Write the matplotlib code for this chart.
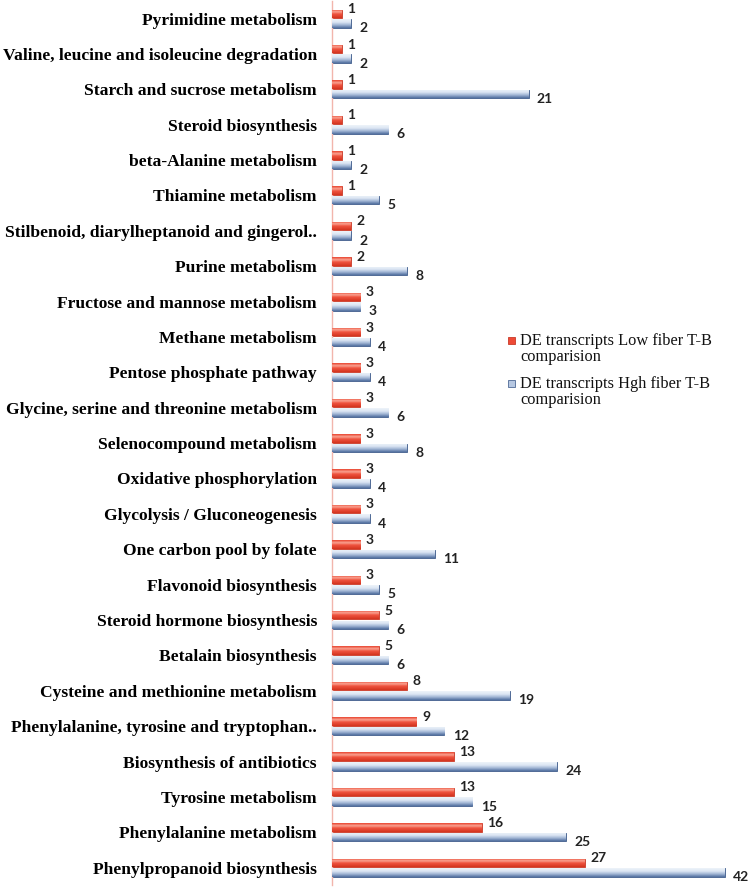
import numpy as np
import matplotlib
matplotlib.use('Agg')
import matplotlib.pyplot as plt
from matplotlib.colors import LinearSegmentedColormap
from matplotlib.patches import Rectangle

# pathways, top to bottom as in the picture
pathways = [
    'Pyrimidine metabolism',
    'Valine, leucine and isoleucine degradation',
    'Starch and sucrose metabolism',
    'Steroid biosynthesis',
    'beta-Alanine metabolism',
    'Thiamine metabolism',
    'Stilbenoid, diarylheptanoid and gingerol..',
    'Purine metabolism',
    'Fructose and mannose metabolism',
    'Methane metabolism',
    'Pentose phosphate pathway',
    'Glycine, serine and threonine metabolism',
    'Selenocompound metabolism',
    'Oxidative phosphorylation',
    'Glycolysis / Gluconeogenesis',
    'One carbon pool by folate',
    'Flavonoid biosynthesis',
    'Steroid hormone biosynthesis',
    'Betalain biosynthesis',
    'Cysteine and methionine metabolism',
    'Phenylalanine, tyrosine and tryptophan..',
    'Biosynthesis of antibiotics',
    'Tyrosine metabolism',
    'Phenylalanine metabolism',
    'Phenylpropanoid biosynthesis',
]
low_fiber = [1, 1, 1, 1, 1, 1, 2, 2, 3, 3, 3, 3, 3, 3, 3, 3, 3, 5, 5, 8, 9, 13, 13, 16, 27]
high_fiber = [2, 2, 21, 6, 2, 5, 2, 8, 3, 4, 4, 6, 8, 4, 4, 11, 5, 6, 6, 19, 12, 24, 15, 25, 42]
legend_labels = ['DE transcripts Low fiber T-B\ncomparision',
                 'DE transcripts Hgh fiber T-B\ncomparision']

red_cmap = LinearSegmentedColormap.from_list(
    'red3d', [(0, '#E9442F'), (0.3, '#F9A291'), (0.55, '#F05440'), (1, '#D3341F')])
blue_cmap = LinearSegmentedColormap.from_list(
    'blue3d', [(0, '#EEF3FA'), (0.35, '#DCE6F3'), (0.65, '#A4B8D6'), (1, '#5270A0')])

fig = plt.figure(figsize=(7.5, 8.88), dpi=100)
ax = fig.add_axes([0.443, 0.003, 0.557, 0.996])

n = len(pathways)
y = np.arange(n)[::-1]
h = 0.24
off = 0.135

bars_low = ax.barh(y + off, low_fiber, height=h, color='#EE4A36', edgecolor='#C93A28', linewidth=0.6, zorder=2)
bars_high = ax.barh(y - off, high_fiber, height=h, color='#C9D7EA', edgecolor='#4F6A96', linewidth=0.7, zorder=2)

grad = np.linspace(0, 1, 64).reshape(-1, 1)
for bars, cmap in [(bars_low, red_cmap), (bars_high, blue_cmap)]:
    for b in bars:
        x0, y0, w, hh = b.get_x(), b.get_y(), b.get_width(), b.get_height()
        im = ax.imshow(grad, cmap=cmap, aspect='auto', origin='upper',
                       extent=[x0, x0 + w, y0, y0 + hh], zorder=3)
        im.set_clip_path(b)

for b, v in zip(bars_low, low_fiber):
    ax.text(b.get_width() + 0.6, b.get_y() + b.get_height() * 1.05, str(v),
            ha='left', va='center', fontsize=10, fontweight='bold', family='Lato', color='#222222')
for b, v in zip(bars_high, high_fiber):
    ax.text(b.get_width() + 0.9, b.get_y() - 0.02, str(v),
            ha='left', va='center', fontsize=10, fontweight='bold', family='Lato', color='#222222')

ax.set_xlim(0, 44.7)
ax.set_ylim(-0.5, n - 0.5)
ax.set_yticks(y)
ax.set_yticklabels(pathways, family='Liberation Serif', fontweight='bold', fontsize=12.6)
ax.tick_params(axis='y', length=0, pad=11)
ax.set_xticks([])
for s in ['top', 'right', 'bottom']:
    ax.spines[s].set_visible(False)
ax.spines['left'].set_color('#F2B5AC')
ax.spines['left'].set_linewidth(1.0)

# legend built by hand: marker beside the first line of each wrapped label
W, H = 750, 888
legend_colors = [('#EE4A36', '#C93A28'), ('#B7C8E2', '#4F6A96')]
legend_tops = [333, 376]
for (fc, ec), top, lab in zip(legend_colors, legend_tops, legend_labels):
    fig.patches.append(Rectangle((508 / W, 1 - (top + 11) / H), 7 / W, 7 / H,
                                 transform=fig.transFigure, facecolor=fc, edgecolor=ec, linewidth=0.6))
    fig.text(520 / W, 1 - top / H, lab, ha='left', va='top', family='Liberation Serif',
             fontsize=11.8, linespacing=1.0, color='#111111')

plt.savefig('out.png', dpi=100)
